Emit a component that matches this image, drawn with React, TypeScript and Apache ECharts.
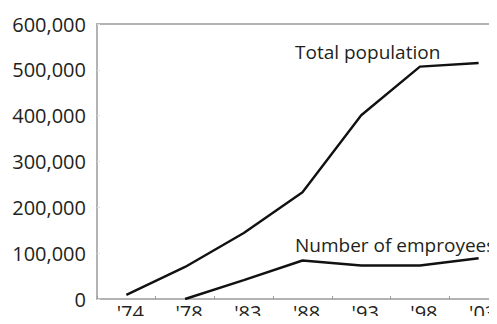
import React, { useEffect, useRef } from "react";
import * as echarts from "echarts";

const categories = ["'74", "'78", "'83", "'88", "'93", "'98", "'03"];
const totalPopulation = [9000, 70000, 144000, 233000, 401000, 507000, 515000];
const employees = [null, 0, 41000, 84000, 73000, 73000, 89000];
const yTicks = [0, 100000, 200000, 300000, 400000, 500000, 600000];

const FONT = "'Open Sans', sans-serif";
const TEXT = "#231f20";
const AXIS = "#9a9a9a";

export default function App() {
  const ref = useRef<HTMLDivElement>(null);
  useEffect(() => {
    if (!ref.current) return;
    const chart = echarts.init(ref.current, undefined, { renderer: "svg" });
    chart.setOption({
      animation: false,
      backgroundColor: "#fff",
      grid: { left: 97, top: 24, bottom: 25, width: 411, outerBoundsMode: "none", containLabel: false },
      xAxis: [
        {
          type: "category",
          data: categories,
          boundaryGap: true,
          axisLine: { show: true, lineStyle: { color: AXIS, width: 1.5 } },
          axisTick: { show: true, inside: true, length: 3, lineStyle: { color: AXIS } },
          axisLabel: {
            color: TEXT,
            fontFamily: FONT,
            fontSize: 20,
            margin: 3,
            padding: [0, 0, 0, 8],
          },
          splitLine: { show: false },
        },
        {
          type: "category",
          data: categories,
          position: "top",
          axisLine: { show: true, lineStyle: { color: AXIS, width: 1.5 } },
          axisTick: { show: false },
          axisLabel: { show: false },
        },
      ],
      yAxis: {
        type: "value",
        min: 0,
        max: 600000,
        interval: 100000,
        axisLine: { show: true, lineStyle: { color: AXIS, width: 1.5 } },
        axisTick: { show: true, inside: true, length: 3, lineStyle: { color: "#e0e0e0" } },
        splitLine: { show: false },
        axisLabel: {
          color: TEXT,
          fontFamily: FONT,
          fontSize: 20,
          margin: 11,
          formatter: (v: number) => (yTicks.includes(v) ? v.toLocaleString("en-US") : ""),
        },
      },
      series: [
        {
          type: "line",
          name: "Total population",
          data: totalPopulation,
          symbol: "none",
          lineStyle: { color: "#111", width: 2.4 },
        },
        {
          type: "line",
          name: "Number of emproyees",
          data: employees,
          symbol: "none",
          connectNulls: false,
          lineStyle: { color: "#111", width: 2.4 },
        },
      ],
      graphic: [
        {
          type: "text",
          left: 295,
          top: 42,
          style: { text: "Total population", fill: TEXT, font: `19px ${FONT}` },
        },
        {
          type: "text",
          left: 295,
          top: 235,
          style: { text: "Number of emproyees", fill: TEXT, font: `19px ${FONT}` },
        },
      ],
    });
    return () => chart.dispose();
  }, []);
  return <div ref={ref} style={{ width: 497, height: 324, margin: -8 }} />;
}
